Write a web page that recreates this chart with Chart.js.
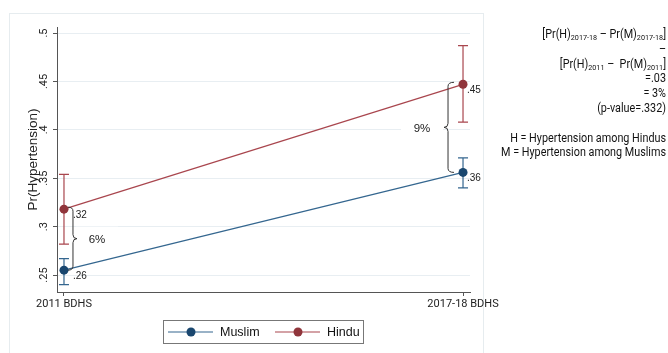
<!DOCTYPE html>
<html>
<head>
<meta charset="utf-8">
<script src="https://cdn.jsdelivr.net/npm/chart.js@4.4.1/dist/chart.umd.min.js"></script>
<style>
  html, body { margin: 0; padding: 0; background: #fff; }
  #wrap { width: 668px; height: 353px; }
</style>
</head>
<body>
<div id="wrap"><canvas id="c" width="668" height="353"></canvas></div>
<script>
// Survey rounds and their positions on the x axis
const periods = ['2011 BDHS', '2017-18 BDHS'];
const periodX = [0, 1];

// Predicted probability of hypertension with 95% CI
const muslim     = [0.255, 0.356];
const muslimLow  = [0.240, 0.340];
const muslimHigh = [0.267, 0.371];
const hindu      = [0.318, 0.447];
const hinduLow   = [0.282, 0.408];
const hinduHigh  = [0.354, 0.487];

// Y axis ticks
const yTickValues = [0.25, 0.3, 0.35, 0.4, 0.45, 0.5];
const yTickLabels = ['.25', '.3', '.35', '.4', '.45', '.5'];

// Side note: difference-in-differences (segments marked 's' are subscripts)
const noteLines = [
  [['[Pr(H)'], ['2017-18', 's'], [' \u2013 Pr(M)'], ['2017-18', 's'], [']']],
  [['\u2013']],
  [['[Pr(H)'], ['2011', 's'], [' \u2013  Pr(M)'], ['2011', 's'], [']']],
  [['=.03']],
  [['= 3%']],
  [['(p-value=.332)']],
  [],
  [['H = Hypertension among Hindus']],
  [['M = Hypertension among Muslims']]
];

const MUSLIM_DOT = '#1a476f', MUSLIM_LINE = '#34668f';
const HINDU_DOT = '#90353b', HINDU_LINE = '#a9464e';
const SANS = "'Liberation Sans', Arial, sans-serif";
const MYR = "Roboto, 'Open Sans', sans-serif";

function fmt(v) { return (Math.round(v * 100) / 100).toFixed(2).replace(/^0/, ''); }

function brace(ctx, x0, y1, y2, dir, hook, tip) {
  // dir = 1 draws "}" (tip to the right), -1 draws "{"
  const ym = (y1 + y2) / 2, r = 4;
  ctx.beginPath();
  ctx.moveTo(x0 - dir * hook, y1);
  ctx.quadraticCurveTo(x0, y1, x0, y1 + r);
  ctx.lineTo(x0, ym - r);
  ctx.quadraticCurveTo(x0, ym, x0 + dir * tip, ym);
  ctx.quadraticCurveTo(x0, ym, x0, ym + r);
  ctx.lineTo(x0, y2 - r);
  ctx.quadraticCurveTo(x0, y2, x0 - dir * hook, y2);
  ctx.stroke();
}

// brace placement and gap label offsets around each survey round
const braceSpec = [
  { i: 0, bx: 9, dir: 1, hook: 5, tip: 4, tx: 33 },
  { i: 1, bx: -15, dir: -1, hook: 6, tip: 4, tx: -41 }
];

const extras = {
  id: 'extras',
  beforeDraw(chart) {
    const ctx = chart.ctx;
    ctx.save();
    ctx.strokeStyle = '#e6ecef';
    ctx.lineWidth = 1;
    ctx.strokeRect(9.5, 13.5, 474, 360);
    ctx.restore();
  },
  beforeDatasetsDraw(chart) {
    const { ctx, scales: { x, y } } = chart;
    // blank patch behind each gap percentage
    ctx.save();
    braceSpec.forEach(b => {
      const px = x.getPixelForValue(periodX[b.i]);
      const ym = (y.getPixelForValue(hindu[b.i]) + y.getPixelForValue(muslim[b.i])) / 2;
      ctx.fillStyle = '#fff';
      ctx.fillRect(px + b.tx - 21, ym - 13, 42, 26);
    });
    ctx.restore();
    // confidence intervals
    [[muslimLow, muslimHigh, MUSLIM_LINE], [hinduLow, hinduHigh, HINDU_LINE]].forEach(([lo, hi, col]) => {
      periodX.forEach((p, i) => {
        const px = x.getPixelForValue(p);
        const y1 = y.getPixelForValue(lo[i]), y2 = y.getPixelForValue(hi[i]);
        ctx.save();
        ctx.strokeStyle = col;
        ctx.lineWidth = 1.2;
        ctx.beginPath();
        ctx.moveTo(px, y1); ctx.lineTo(px, y2);
        ctx.moveTo(px - 5, y1); ctx.lineTo(px + 5, y1);
        ctx.moveTo(px - 5, y2); ctx.lineTo(px + 5, y2);
        ctx.stroke();
        ctx.restore();
      });
    });
  },
  afterDatasetsDraw(chart) {
    const { ctx, scales: { x, y } } = chart;
    ctx.save();
    // value labels
    const labelDx = [9, 4];
    ctx.font = '10px ' + SANS;
    ctx.fillStyle = '#222';
    ctx.textAlign = 'left';
    ctx.textBaseline = 'middle';
    [muslim, hindu].forEach(series => {
      series.forEach((v, i) => {
        const px = x.getPixelForValue(periodX[i]);
        ctx.fillText(fmt(v), px + labelDx[i], y.getPixelForValue(v) + 6);
      });
    });
    // braces and gap percentages
    ctx.strokeStyle = '#333';
    ctx.lineWidth = 1;
    braceSpec.forEach(b => {
      const px = x.getPixelForValue(periodX[b.i]);
      const yh = y.getPixelForValue(hindu[b.i]);
      const ym = y.getPixelForValue(muslim[b.i]);
      brace(ctx, px + b.bx, yh - 2, ym, b.dir, b.hook, b.tip);
      const gap = Math.round((hindu[b.i] - muslim[b.i]) * 100);
      ctx.font = '11.5px ' + SANS;
      ctx.textAlign = 'center';
      ctx.fillText(gap + '%', px + b.tx, (yh + ym) / 2);
    });
    ctx.restore();
  },
  afterDraw(chart) {
    const ctx = chart.ctx;
    ctx.save();
    // legend
    ctx.fillStyle = '#fff';
    ctx.fillRect(163.5, 320.5, 200, 23);
    ctx.strokeStyle = '#777';
    ctx.lineWidth = 1;
    ctx.strokeRect(163.5, 320.5, 200, 23);
    const legendX = [168, 275];
    chart.data.datasets.forEach((ds, k) => {
      const lx = legendX[k], ly = 332;
      ctx.strokeStyle = ds.borderColor;
      ctx.lineWidth = 1.2;
      ctx.beginPath(); ctx.moveTo(lx, ly); ctx.lineTo(lx + 45, ly); ctx.stroke();
      ctx.fillStyle = ds.pointBackgroundColor;
      ctx.beginPath(); ctx.arc(lx + 23, ly, 4.5, 0, Math.PI * 2); ctx.fill();
      ctx.fillStyle = '#111';
      ctx.font = '12.5px ' + SANS;
      ctx.textAlign = 'left';
      ctx.textBaseline = 'middle';
      ctx.fillText(ds.label, lx + 52, ly + 0.5);
    });
    // side note, right-aligned, in a slightly condensed face
    const squeeze = 0.9;
    const mainFont = '12px ' + MYR, subFont = '8px ' + MYR;
    ctx.fillStyle = '#111';
    ctx.textBaseline = 'middle';
    ctx.textAlign = 'left';
    noteLines.forEach((segs, li) => {
      const ly = 35 + li * 14.8;
      let total = 0;
      segs.forEach(s => { ctx.font = s[1] ? subFont : mainFont; total += ctx.measureText(s[0]).width; });
      ctx.save();
      ctx.translate(666 - total * squeeze, 0);
      ctx.scale(squeeze, 1);
      let cx = 0;
      segs.forEach(s => {
        ctx.font = s[1] ? subFont : mainFont;
        ctx.fillText(s[0], cx, s[1] ? ly + 3 : ly);
        cx += ctx.measureText(s[0]).width;
      });
      ctx.restore();
    });
    ctx.restore();
  }
};

new Chart(document.getElementById('c'), {
  type: 'line',
  data: {
    datasets: [
      {
        label: 'Muslim',
        data: periodX.map((p, i) => ({ x: p, y: muslim[i] })),
        borderColor: MUSLIM_LINE, borderWidth: 1.2,
        pointBackgroundColor: MUSLIM_DOT, pointBorderColor: MUSLIM_DOT,
        pointRadius: 4.5, pointBorderWidth: 0, tension: 0
      },
      {
        label: 'Hindu',
        data: periodX.map((p, i) => ({ x: p, y: hindu[i] })),
        borderColor: HINDU_LINE, borderWidth: 1.2,
        pointBackgroundColor: HINDU_DOT, pointBorderColor: HINDU_DOT,
        pointRadius: 4.5, pointBorderWidth: 0, tension: 0
      }
    ]
  },
  options: {
    responsive: false,
    animation: false,
    devicePixelRatio: 1,
    layout: { padding: { top: 27, right: 198, bottom: 0, left: 0 } },
    plugins: { legend: { display: false }, tooltip: { enabled: false } },
    scales: {
      x: {
        type: 'linear',
        min: -0.0175, max: 1.0175,
        afterBuildTicks: s => { s.ticks = periodX.map(v => ({ value: v })); },
        afterFit: s => { s.height = 61; },
        ticks: {
          callback: (v, i) => periods[i],
          font: { family: MYR, size: 11 }, color: '#222',
          padding: 2, maxRotation: 0, autoSkip: false
        },
        grid: { drawOnChartArea: false, tickLength: 4, tickColor: '#555' },
        border: { color: '#555', width: 1 }
      },
      y: {
        min: 0.23244, max: 0.5062,
        afterBuildTicks: s => { s.ticks = yTickValues.map(v => ({ value: v })); },
        afterFit: s => { s.width = 57; },
        ticks: {
          callback: (v, i) => yTickLabels[i],
          minRotation: 90, maxRotation: 90, crossAlign: 'center',
          padding: 1, font: { family: MYR, size: 11 }, color: '#222'
        },
        grid: { color: '#e8eef2', lineWidth: 1, tickLength: 4, tickColor: '#555' },
        border: { color: '#555', width: 1 },
        title: {
          display: true, text: 'Pr(Hypertension)',
          font: { family: SANS, size: 13.5 }, color: '#222',
          padding: { top: 25, bottom: 0 }
        }
      }
    }
  },
  plugins: [extras]
});
</script>
</body>
</html>
